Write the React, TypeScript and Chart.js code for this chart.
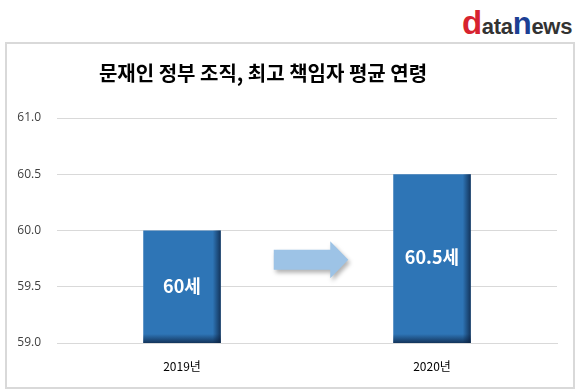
import React, { useEffect, useRef } from "react";
import { Chart, registerables } from "chart.js";

Chart.register(...registerables);

const TITLE = "문재인 정부 조직, 최고 책임자 평균 연령";
const categories = ["2019년", "2020년"];
const avgAge = [60.0, 60.5];
const valueLabels = ["60세", "60.5세"];
const yTicks = [59.0, 59.5, 60.0, 60.5, 61.0];

const KFONT = "'Noto Sans CJK KR', 'Noto Sans', sans-serif";

const decorPlugin = {
  id: "decor",
  beforeDraw(chart: any) {
    const ctx = chart.ctx;
    ctx.save();
    ctx.fillStyle = "#000";
    ctx.font = `bold 20px ${KFONT}`;
    ctx.textAlign = "center";
    ctx.textBaseline = "middle";
    ctx.fillText(TITLE, 263, 73);
    ctx.restore();
  },
  afterDatasetsDraw(chart: any) {
    const ctx = chart.ctx;
    const meta = chart.getDatasetMeta(0);
    const yScale = chart.scales.y;
    const base = yScale.getPixelForValue(yScale.min);
    meta.data.forEach((bar: any, i: number) => {
      const x = bar.x;
      const y = bar.y;
      const width = bar.width;
      const left = x - width / 2;
      const right = x + width / 2;
      ctx.save();
      const gR = ctx.createLinearGradient(right - 8, 0, right, 0);
      gR.addColorStop(0, "rgba(10,30,60,0)");
      gR.addColorStop(1, "rgba(10,30,60,0.75)");
      ctx.fillStyle = gR;
      ctx.fillRect(right - 8, y, 8, base - y);
      const gB = ctx.createLinearGradient(0, base - 9, 0, base);
      gB.addColorStop(0, "rgba(10,30,60,0)");
      gB.addColorStop(1, "rgba(10,30,60,0.75)");
      ctx.fillStyle = gB;
      ctx.fillRect(left, base - 9, width, 9);
      ctx.fillStyle = "#fff";
      ctx.font = `bold 18px ${KFONT}`;
      ctx.textAlign = "center";
      ctx.textBaseline = "middle";
      ctx.fillText(valueLabels[i], x, (y + base) / 2 - 1);
      ctx.restore();
    });
    if (meta.data.length >= 2) {
      const b0 = meta.data[0];
      const b1 = meta.data[1];
      const x0 = b0.x + b0.width / 2 + 53;
      const x1 = b1.x - b1.width / 2 - 45;
      const cy = yScale.getPixelForValue(59.74);
      const bodyH = 20;
      const headH = 37;
      const headL = 18;
      const drawArrow = (dx: number, dy: number, fill: string) => {
        ctx.beginPath();
        ctx.moveTo(x0 + dx, cy - bodyH / 2 + dy);
        ctx.lineTo(x1 - headL + dx, cy - bodyH / 2 + dy);
        ctx.lineTo(x1 - headL + dx, cy - headH / 2 + dy);
        ctx.lineTo(x1 + dx, cy + dy);
        ctx.lineTo(x1 - headL + dx, cy + headH / 2 + dy);
        ctx.lineTo(x1 - headL + dx, cy + bodyH / 2 + dy);
        ctx.lineTo(x0 + dx, cy + bodyH / 2 + dy);
        ctx.closePath();
        ctx.fillStyle = fill;
        ctx.fill();
      };
      ctx.save();
      ctx.filter = "blur(2px)";
      drawArrow(2, 3, "rgba(0,0,0,0.3)");
      ctx.restore();
      ctx.save();
      drawArrow(0, 0, "#9DC3E6");
      ctx.restore();
    }
  },
};

export default function App() {
  const ref = useRef<HTMLCanvasElement>(null);
  useEffect(() => {
    if (!ref.current) return;
    const chart = new Chart(ref.current, {
      type: "bar",
      data: {
        labels: categories,
        datasets: [
          {
            data: avgAge,
            backgroundColor: "#2E75B6",
            borderWidth: 0,
            barPercentage: 0.31,
            categoryPercentage: 1,
          },
        ],
      },
      options: {
        animation: false,
        responsive: false,
        maintainAspectRatio: false,
        layout: { padding: { top: 118, right: 23, bottom: 0, left: 0 } },
        plugins: {
          legend: { display: false },
          tooltip: { enabled: false },
          title: { display: false },
        },
        scales: {
          x: {
            grid: { display: false, drawTicks: false },
            border: { display: true, color: "#d9d9d9", width: 1 },
            ticks: {
              color: "#000",
              font: { size: 12, family: KFONT },
              padding: 16,
            },
            afterFit: (s: any) => {
              s.height = 49;
            },
          },
          y: {
            min: 59,
            max: 61,
            afterBuildTicks: (s: any) => {
              s.ticks = yTicks.map((v) => ({ value: v }));
            },
            grid: { color: "#d9d9d9", lineWidth: 1, drawTicks: false },
            border: { display: false },
            ticks: {
              color: "#404040",
              font: { size: 12, family: "'Open Sans', 'DejaVu Sans', sans-serif" },
              padding: 16,
              callback: (v: any) => Number(v).toFixed(1),
            },
            afterFit: (s: any) => {
              s.width = 57;
            },
          },
        },
      },
      plugins: [decorPlugin],
    });
    return () => chart.destroy();
  }, []);

  return (
    <div
      style={{
        position: "absolute",
        left: 0,
        top: 0,
        width: 580,
        height: 392,
        background: "#fff",
        overflow: "hidden",
      }}
    >
      <div
        style={{
          position: "absolute",
          left: 5,
          top: 42,
          width: 566,
          height: 343,
          border: "2px solid #d9d9d9",
        }}
      />
      <div
        style={{
          position: "absolute",
          left: 462,
          top: 6,
          fontFamily: "'Liberation Sans', Arial, sans-serif",
          fontWeight: "bold",
          whiteSpace: "nowrap",
          lineHeight: 1,
          letterSpacing: "-0.3px",
        }}
      >
        <span style={{ color: "#d7232f", fontSize: 33 }}>d</span>
        <span style={{ color: "#333", fontSize: 22 }}>ata</span>
        <span style={{ color: "#1c3f94", fontSize: 31 }}>n</span>
        <span style={{ color: "#333", fontSize: 22 }}>ews</span>
      </div>
      <canvas
        ref={ref}
        width={580}
        height={392}
        style={{ position: "absolute", left: 0, top: 0, width: 580, height: 392 }}
      />
    </div>
  );
}
